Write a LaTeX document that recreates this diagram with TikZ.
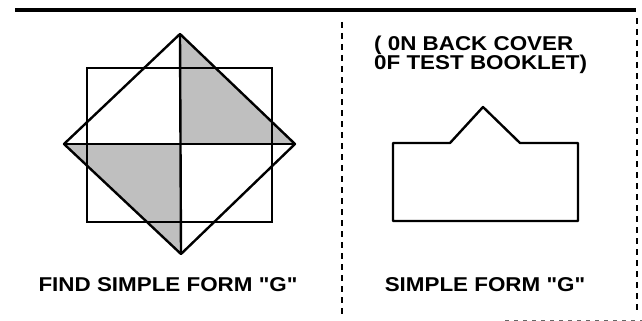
\documentclass[tikz,border=0pt]{standalone}
\usepackage{fontspec}
\setmainfont{Liberation Sans}[FakeStretch=1.12, Ligatures=TeXOff]
\usetikzlibrary{positioning}

\begin{document}
\begin{tikzpicture}[
  x=1pt, y=-1pt,
  label/.style={font=\fontsize{20}{18.5}\selectfont\bfseries, inner sep=0pt},
  frame/.style={line width=2pt, dash pattern=on 6pt off 5pt},
  outline/.style={line width=2.4pt, line join=round},
  shade/.style={fill=black!25}
]
\useasboundingbox (0,0) rectangle (642,321);

\draw[line width=4pt] (15,10) -- (636,10);
\draw[frame] (342,22) -- (342,316);
\draw[frame] (637,18) -- (637,312);
\draw[line width=1pt, black!60, dash pattern=on 4pt off 5pt] (505,320) -- (642,320);

\coordinate (top) at (180,34);
\coordinate (rgt) at (295,144);
\coordinate (bot) at (181,254);
\coordinate (lft) at (64,144);
\coordinate (mid) at (180,144);

\fill[shade] (top) -- (mid) -- (rgt) -- cycle;
\fill[shade] (lft) -- (mid) -- (bot) -- cycle;
\draw[line width=1.8pt] (87,68) rectangle (272,222);
\draw[outline] (top) -- (rgt) -- (bot) -- (lft) -- cycle;
\draw[outline] (top) -- (bot);
\draw[outline] (lft) -- (rgt);

\draw[outline] (450,143) -- (483,107) -- (520,143) -- (578,143)
  -- (578,221) -- (393,221) -- (393,143) -- cycle;

\node[label, anchor=base] (find) at (168,291) {FIND SIMPLE FORM "G"};
\node[label, anchor=base] (simple) at (485,291) {SIMPLE FORM "G"};
\node[label, anchor=base west, align=left] (note) at (374,70)
  {( 0N BACK COVER\\0F TEST BOOKLET)};
\end{tikzpicture}
\end{document}
